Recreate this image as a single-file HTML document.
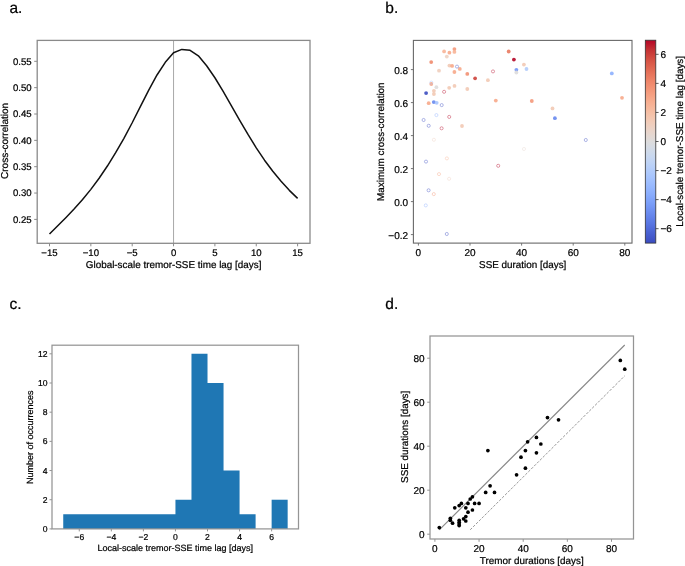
<!DOCTYPE html>
<html><head><meta charset="utf-8"><style>
html,body{margin:0;padding:0;background:#fff;}
body{width:685px;height:566px;overflow:hidden;}
svg{display:block;font-family:"Liberation Sans", sans-serif;will-change:transform;text-rendering:geometricPrecision;}
text{stroke:#000;stroke-width:0.22px;paint-order:stroke;}
</style></head><body>
<svg width="685" height="566" viewBox="0 0 685 566">
<rect x="0" y="0" width="685" height="566" fill="#fff"/>
<text x="9.50" y="13.20" font-size="15.5" text-anchor="start" fill="#000">a.</text>
<text x="385.30" y="13.20" font-size="15.5" text-anchor="start" fill="#000">b.</text>
<text x="9.50" y="309.00" font-size="15.5" text-anchor="start" fill="#000">c.</text>
<text x="385.30" y="309.00" font-size="15.5" text-anchor="start" fill="#000">d.</text>
<line x1="173.55" y1="40.40" x2="173.55" y2="243.30" stroke="#a8a8a8" stroke-width="1.0"/>
<path d="M49.50,234.09 L57.77,225.82 L66.04,217.45 L74.31,208.73 L82.58,199.45 L90.85,189.36 L99.12,178.25 L107.39,166.04 L115.66,152.72 L123.93,138.29 L132.20,122.77 L140.47,106.36 L148.74,90.04 L157.01,74.98 L165.28,62.33 L173.55,52.70 L181.82,49.40 L190.09,50.30 L198.36,55.80 L206.63,65.71 L214.90,77.75 L223.17,91.40 L231.44,105.77 L239.71,120.27 L247.98,134.46 L256.25,147.90 L264.52,160.20 L272.79,171.32 L281.06,181.34 L289.33,190.34 L297.60,198.38" fill="none" stroke="#111" stroke-width="1.5" stroke-linejoin="round"/>
<rect x="37.20" y="40.40" width="272.80" height="202.90" fill="none" stroke="#8a8a8a" stroke-width="1.3"/>
<line x1="34.20" y1="219.40" x2="37.20" y2="219.40" stroke="#8a8a8a" stroke-width="1.0"/>
<text x="31.70" y="222.80" font-size="9.6" text-anchor="end" fill="#000">0.25</text>
<line x1="34.20" y1="193.05" x2="37.20" y2="193.05" stroke="#8a8a8a" stroke-width="1.0"/>
<text x="31.70" y="196.45" font-size="9.6" text-anchor="end" fill="#000">0.30</text>
<line x1="34.20" y1="166.70" x2="37.20" y2="166.70" stroke="#8a8a8a" stroke-width="1.0"/>
<text x="31.70" y="170.10" font-size="9.6" text-anchor="end" fill="#000">0.35</text>
<line x1="34.20" y1="140.35" x2="37.20" y2="140.35" stroke="#8a8a8a" stroke-width="1.0"/>
<text x="31.70" y="143.75" font-size="9.6" text-anchor="end" fill="#000">0.40</text>
<line x1="34.20" y1="114.00" x2="37.20" y2="114.00" stroke="#8a8a8a" stroke-width="1.0"/>
<text x="31.70" y="117.40" font-size="9.6" text-anchor="end" fill="#000">0.45</text>
<line x1="34.20" y1="87.65" x2="37.20" y2="87.65" stroke="#8a8a8a" stroke-width="1.0"/>
<text x="31.70" y="91.05" font-size="9.6" text-anchor="end" fill="#000">0.50</text>
<line x1="34.20" y1="61.30" x2="37.20" y2="61.30" stroke="#8a8a8a" stroke-width="1.0"/>
<text x="31.70" y="64.70" font-size="9.6" text-anchor="end" fill="#000">0.55</text>
<line x1="49.50" y1="243.30" x2="49.50" y2="246.30" stroke="#8a8a8a" stroke-width="1.0"/>
<text x="49.50" y="256.30" font-size="9.6" text-anchor="middle" fill="#000">−15</text>
<line x1="90.85" y1="243.30" x2="90.85" y2="246.30" stroke="#8a8a8a" stroke-width="1.0"/>
<text x="90.85" y="256.30" font-size="9.6" text-anchor="middle" fill="#000">−10</text>
<line x1="132.20" y1="243.30" x2="132.20" y2="246.30" stroke="#8a8a8a" stroke-width="1.0"/>
<text x="132.20" y="256.30" font-size="9.6" text-anchor="middle" fill="#000">−5</text>
<line x1="173.55" y1="243.30" x2="173.55" y2="246.30" stroke="#8a8a8a" stroke-width="1.0"/>
<text x="173.55" y="256.30" font-size="9.6" text-anchor="middle" fill="#000">0</text>
<line x1="214.90" y1="243.30" x2="214.90" y2="246.30" stroke="#8a8a8a" stroke-width="1.0"/>
<text x="214.90" y="256.30" font-size="9.6" text-anchor="middle" fill="#000">5</text>
<line x1="256.25" y1="243.30" x2="256.25" y2="246.30" stroke="#8a8a8a" stroke-width="1.0"/>
<text x="256.25" y="256.30" font-size="9.6" text-anchor="middle" fill="#000">10</text>
<line x1="297.60" y1="243.30" x2="297.60" y2="246.30" stroke="#8a8a8a" stroke-width="1.0"/>
<text x="297.60" y="256.30" font-size="9.6" text-anchor="middle" fill="#000">15</text>
<text x="173.60" y="268.20" font-size="9.9" text-anchor="middle" fill="#000">Global-scale tremor-SSE time lag [days]</text>
<text x="8.00" y="140.90" font-size="10.0" text-anchor="middle" transform="rotate(-90 8.0 140.9)" fill="#000">Cross-correlation</text>
<circle cx="444.1" cy="51.4" r="1.9" fill="#f7b497" fill-opacity="0.9"/>
<circle cx="449.4" cy="52.7" r="1.9" fill="#f7a889" fill-opacity="0.9"/>
<circle cx="454.4" cy="49.1" r="1.9" fill="#f4987a" fill-opacity="0.9"/>
<circle cx="454.4" cy="51.9" r="1.9" fill="#f7b497" fill-opacity="0.9"/>
<circle cx="446.8" cy="56.6" r="1.9" fill="#edd1c2" fill-opacity="0.9"/>
<circle cx="431.2" cy="62.1" r="1.9" fill="#f08a6c" fill-opacity="0.9"/>
<circle cx="449.4" cy="65.6" r="1.9" fill="#f2c9b4" fill-opacity="0.9"/>
<circle cx="452.1" cy="65.9" r="1.9" fill="#f7a889" fill-opacity="0.9"/>
<circle cx="459.8" cy="68.9" r="1.9" fill="#f7a889" fill-opacity="0.9"/>
<circle cx="439.0" cy="70.7" r="1.9" fill="#efcebd" fill-opacity="0.9"/>
<circle cx="454.4" cy="72.0" r="1.9" fill="#f7a889" fill-opacity="0.9"/>
<circle cx="467.3" cy="73.9" r="1.9" fill="#f29072" fill-opacity="0.9"/>
<circle cx="475.1" cy="78.3" r="1.9" fill="#cd423b" fill-opacity="0.9"/>
<circle cx="487.9" cy="80.2" r="1.9" fill="#f2c9b4" fill-opacity="0.9"/>
<circle cx="431.3" cy="84.0" r="1.9" fill="#f7a889" fill-opacity="0.9"/>
<circle cx="436.4" cy="87.2" r="1.9" fill="#dddcdc" fill-opacity="0.9"/>
<circle cx="449.2" cy="87.8" r="1.9" fill="#f2c9b4" fill-opacity="0.9"/>
<circle cx="454.5" cy="85.9" r="1.9" fill="#f2c9b4" fill-opacity="0.9"/>
<circle cx="467.3" cy="89.0" r="1.9" fill="#f2c9b4" fill-opacity="0.9"/>
<circle cx="426.1" cy="93.1" r="1.9" fill="#3b4cc0" fill-opacity="0.9"/>
<circle cx="433.9" cy="90.8" r="1.9" fill="#f2c9b4" fill-opacity="0.9"/>
<circle cx="433.9" cy="94.0" r="1.9" fill="#f2c9b4" fill-opacity="0.9"/>
<circle cx="428.7" cy="103.2" r="1.9" fill="#f7a889" fill-opacity="0.9"/>
<circle cx="433.8" cy="102.1" r="1.9" fill="#6788ee" fill-opacity="0.9"/>
<circle cx="436.7" cy="102.8" r="1.9" fill="#a6c4fe" fill-opacity="0.9"/>
<circle cx="462.0" cy="126.0" r="1.9" fill="#f2c9b4" fill-opacity="0.9"/>
<circle cx="495.8" cy="100.6" r="1.9" fill="#f7a889" fill-opacity="0.9"/>
<circle cx="508.7" cy="51.5" r="1.9" fill="#e97a5f" fill-opacity="0.9"/>
<circle cx="513.9" cy="59.6" r="1.9" fill="#b40426" fill-opacity="0.9"/>
<circle cx="523.9" cy="64.6" r="1.9" fill="#f2c9b4" fill-opacity="0.9"/>
<circle cx="516.4" cy="69.8" r="1.9" fill="#7396f5" fill-opacity="0.9"/>
<circle cx="516.4" cy="72.5" r="1.9" fill="#dddcdc" fill-opacity="0.9"/>
<circle cx="526.5" cy="69.0" r="1.9" fill="#b2ccfb" fill-opacity="0.9"/>
<circle cx="611.8" cy="73.4" r="1.9" fill="#8db0fe" fill-opacity="0.9"/>
<circle cx="622.0" cy="97.8" r="1.9" fill="#f7a889" fill-opacity="0.9"/>
<circle cx="531.8" cy="101.0" r="1.9" fill="#f4987a" fill-opacity="0.9"/>
<circle cx="552.5" cy="108.4" r="1.9" fill="#f2c9b4" fill-opacity="0.9"/>
<circle cx="554.9" cy="118.2" r="1.9" fill="#6788ee" fill-opacity="0.9"/>
<circle cx="457.0" cy="66.6" r="1.55" fill="none" stroke="#3b4cc0" stroke-width="0.9" stroke-opacity="0.45"/>
<circle cx="431.3" cy="82.6" r="1.55" fill="none" stroke="#a6c4fe" stroke-width="0.9" stroke-opacity="0.45"/>
<circle cx="444.1" cy="91.8" r="1.55" fill="none" stroke="#b40426" stroke-width="0.9" stroke-opacity="0.45"/>
<circle cx="441.7" cy="105.1" r="1.55" fill="none" stroke="#3b4cc0" stroke-width="0.9" stroke-opacity="0.45"/>
<circle cx="436.4" cy="115.1" r="1.55" fill="none" stroke="#8db0fe" stroke-width="0.9" stroke-opacity="0.45"/>
<circle cx="449.2" cy="116.9" r="1.55" fill="none" stroke="#b40426" stroke-width="0.9" stroke-opacity="0.45"/>
<circle cx="423.6" cy="120.0" r="1.55" fill="none" stroke="#3b4cc0" stroke-width="0.9" stroke-opacity="0.45"/>
<circle cx="428.7" cy="125.8" r="1.55" fill="none" stroke="#3b4cc0" stroke-width="0.9" stroke-opacity="0.45"/>
<circle cx="441.6" cy="128.3" r="1.55" fill="none" stroke="#b40426" stroke-width="0.9" stroke-opacity="0.45"/>
<circle cx="493.0" cy="71.4" r="1.55" fill="none" stroke="#b40426" stroke-width="0.9" stroke-opacity="0.45"/>
<circle cx="585.8" cy="140.0" r="1.55" fill="none" stroke="#3b4cc0" stroke-width="0.9" stroke-opacity="0.45"/>
<circle cx="433.9" cy="139.8" r="1.55" fill="none" stroke="#edd1c2" stroke-width="0.9" stroke-opacity="0.45"/>
<circle cx="446.9" cy="158.4" r="1.55" fill="none" stroke="#f7b497" stroke-width="0.9" stroke-opacity="0.45"/>
<circle cx="426.0" cy="161.6" r="1.55" fill="none" stroke="#3b4cc0" stroke-width="0.9" stroke-opacity="0.45"/>
<circle cx="439.0" cy="174.1" r="1.55" fill="none" stroke="#f7a889" stroke-width="0.9" stroke-opacity="0.45"/>
<circle cx="449.1" cy="178.8" r="1.55" fill="none" stroke="#edd1c2" stroke-width="0.9" stroke-opacity="0.45"/>
<circle cx="498.2" cy="165.8" r="1.55" fill="none" stroke="#b40426" stroke-width="0.9" stroke-opacity="0.45"/>
<circle cx="524.0" cy="149.0" r="1.55" fill="none" stroke="#e6d7cf" stroke-width="0.9" stroke-opacity="0.45"/>
<circle cx="428.6" cy="190.3" r="1.55" fill="none" stroke="#3b4cc0" stroke-width="0.9" stroke-opacity="0.45"/>
<circle cx="433.8" cy="194.1" r="1.55" fill="none" stroke="#f4987a" stroke-width="0.9" stroke-opacity="0.45"/>
<circle cx="425.8" cy="205.4" r="1.55" fill="none" stroke="#8db0fe" stroke-width="0.9" stroke-opacity="0.45"/>
<circle cx="446.8" cy="234.0" r="1.55" fill="none" stroke="#3b4cc0" stroke-width="0.9" stroke-opacity="0.45"/>
<rect x="413.40" y="40.40" width="218.60" height="202.70" fill="none" stroke="#686868" stroke-width="1.1"/>
<line x1="410.90" y1="234.60" x2="413.40" y2="234.60" stroke="#686868" stroke-width="0.9"/>
<text x="408.10" y="238.50" font-size="10.0" text-anchor="end" fill="#000">−0.2</text>
<line x1="410.90" y1="201.60" x2="413.40" y2="201.60" stroke="#686868" stroke-width="0.9"/>
<text x="408.10" y="205.50" font-size="10.0" text-anchor="end" fill="#000">0.0</text>
<line x1="410.90" y1="168.60" x2="413.40" y2="168.60" stroke="#686868" stroke-width="0.9"/>
<text x="408.10" y="172.50" font-size="10.0" text-anchor="end" fill="#000">0.2</text>
<line x1="410.90" y1="135.60" x2="413.40" y2="135.60" stroke="#686868" stroke-width="0.9"/>
<text x="408.10" y="139.50" font-size="10.0" text-anchor="end" fill="#000">0.4</text>
<line x1="410.90" y1="102.60" x2="413.40" y2="102.60" stroke="#686868" stroke-width="0.9"/>
<text x="408.10" y="106.50" font-size="10.0" text-anchor="end" fill="#000">0.6</text>
<line x1="410.90" y1="69.60" x2="413.40" y2="69.60" stroke="#686868" stroke-width="0.9"/>
<text x="408.10" y="73.50" font-size="10.0" text-anchor="end" fill="#000">0.8</text>
<line x1="418.40" y1="243.10" x2="418.40" y2="245.60" stroke="#686868" stroke-width="0.9"/>
<text x="418.40" y="256.30" font-size="10.0" text-anchor="middle" fill="#000">0</text>
<line x1="470.00" y1="243.10" x2="470.00" y2="245.60" stroke="#686868" stroke-width="0.9"/>
<text x="470.00" y="256.30" font-size="10.0" text-anchor="middle" fill="#000">20</text>
<line x1="521.60" y1="243.10" x2="521.60" y2="245.60" stroke="#686868" stroke-width="0.9"/>
<text x="521.60" y="256.30" font-size="10.0" text-anchor="middle" fill="#000">40</text>
<line x1="573.20" y1="243.10" x2="573.20" y2="245.60" stroke="#686868" stroke-width="0.9"/>
<text x="573.20" y="256.30" font-size="10.0" text-anchor="middle" fill="#000">60</text>
<line x1="624.80" y1="243.10" x2="624.80" y2="245.60" stroke="#686868" stroke-width="0.9"/>
<text x="624.80" y="256.30" font-size="10.0" text-anchor="middle" fill="#000">80</text>
<text x="522.70" y="268.00" font-size="9.9" text-anchor="middle" fill="#000">SSE duration [days]</text>
<text x="383.80" y="141.70" font-size="9.9" text-anchor="middle" transform="rotate(-90 383.8 141.7)" fill="#000">Maximum cross-correlation</text>
<defs><linearGradient id="cbg" x1="0" y1="0" x2="0" y2="1"><stop offset="0.000" stop-color="#b40426"/><stop offset="0.050" stop-color="#c53334"/><stop offset="0.100" stop-color="#d65244"/><stop offset="0.150" stop-color="#e36c55"/><stop offset="0.200" stop-color="#ee8468"/><stop offset="0.250" stop-color="#f4987a"/><stop offset="0.300" stop-color="#f7ac8e"/><stop offset="0.350" stop-color="#f6bda2"/><stop offset="0.400" stop-color="#f2cbb7"/><stop offset="0.450" stop-color="#e9d5cb"/><stop offset="0.500" stop-color="#dddcdc"/><stop offset="0.550" stop-color="#cfdaea"/><stop offset="0.600" stop-color="#c0d4f5"/><stop offset="0.650" stop-color="#afcafc"/><stop offset="0.700" stop-color="#9ebeff"/><stop offset="0.750" stop-color="#8db0fe"/><stop offset="0.800" stop-color="#7b9ff9"/><stop offset="0.850" stop-color="#6a8bef"/><stop offset="0.900" stop-color="#5977e3"/><stop offset="0.950" stop-color="#4961d2"/><stop offset="1.000" stop-color="#3b4cc0"/></linearGradient></defs>
<rect x="645.30" y="40.20" width="10.50" height="202.90" fill="url(#cbg)" stroke="#333" stroke-width="0.8"/>
<line x1="655.80" y1="228.68" x2="658.60" y2="228.68" stroke="#333" stroke-width="0.8"/>
<text x="660.50" y="232.08" font-size="10.0" text-anchor="start" fill="#000">−6</text>
<line x1="655.80" y1="199.62" x2="658.60" y2="199.62" stroke="#333" stroke-width="0.8"/>
<text x="660.50" y="203.02" font-size="10.0" text-anchor="start" fill="#000">−4</text>
<line x1="655.80" y1="170.56" x2="658.60" y2="170.56" stroke="#333" stroke-width="0.8"/>
<text x="660.50" y="173.96" font-size="10.0" text-anchor="start" fill="#000">−2</text>
<line x1="655.80" y1="141.50" x2="658.60" y2="141.50" stroke="#333" stroke-width="0.8"/>
<text x="660.50" y="144.90" font-size="10.0" text-anchor="start" fill="#000">0</text>
<line x1="655.80" y1="112.44" x2="658.60" y2="112.44" stroke="#333" stroke-width="0.8"/>
<text x="660.50" y="115.84" font-size="10.0" text-anchor="start" fill="#000">2</text>
<line x1="655.80" y1="83.38" x2="658.60" y2="83.38" stroke="#333" stroke-width="0.8"/>
<text x="660.50" y="86.78" font-size="10.0" text-anchor="start" fill="#000">4</text>
<line x1="655.80" y1="54.32" x2="658.60" y2="54.32" stroke="#333" stroke-width="0.8"/>
<text x="660.50" y="57.72" font-size="10.0" text-anchor="start" fill="#000">6</text>
<text x="683.20" y="141.30" font-size="9.9" text-anchor="middle" transform="rotate(-90 683.2 141.29999999999998)" fill="#000">Local-scale tremor-SSE time lag [days]</text>
<path d="M63.24,528.90 L63.24,514.31 L175.45,514.31 L175.45,499.72 L191.48,499.72 L191.48,353.82 L207.51,353.82 L207.51,383.00 L223.54,383.00 L223.54,470.54 L239.57,470.54 L239.57,514.31 L255.60,514.31 L255.60,528.90 Z" fill="#1f77b4"/>
<path d="M271.63,528.90 L271.63,499.72 L287.66,499.72 L287.66,528.90 Z" fill="#1f77b4"/>
<rect x="52.00" y="345.20" width="246.50" height="183.70" fill="none" stroke="#959595" stroke-width="1.25"/>
<line x1="49.50" y1="528.90" x2="52.00" y2="528.90" stroke="#959595" stroke-width="1.0"/>
<text x="47.50" y="532.00" font-size="8.6" text-anchor="end" fill="#000">0</text>
<line x1="49.50" y1="499.72" x2="52.00" y2="499.72" stroke="#959595" stroke-width="1.0"/>
<text x="47.50" y="502.82" font-size="8.6" text-anchor="end" fill="#000">2</text>
<line x1="49.50" y1="470.54" x2="52.00" y2="470.54" stroke="#959595" stroke-width="1.0"/>
<text x="47.50" y="473.64" font-size="8.6" text-anchor="end" fill="#000">4</text>
<line x1="49.50" y1="441.36" x2="52.00" y2="441.36" stroke="#959595" stroke-width="1.0"/>
<text x="47.50" y="444.46" font-size="8.6" text-anchor="end" fill="#000">6</text>
<line x1="49.50" y1="412.18" x2="52.00" y2="412.18" stroke="#959595" stroke-width="1.0"/>
<text x="47.50" y="415.28" font-size="8.6" text-anchor="end" fill="#000">8</text>
<line x1="49.50" y1="383.00" x2="52.00" y2="383.00" stroke="#959595" stroke-width="1.0"/>
<text x="47.50" y="386.10" font-size="8.6" text-anchor="end" fill="#000">10</text>
<line x1="49.50" y1="353.82" x2="52.00" y2="353.82" stroke="#959595" stroke-width="1.0"/>
<text x="47.50" y="356.92" font-size="8.6" text-anchor="end" fill="#000">12</text>
<line x1="79.27" y1="528.90" x2="79.27" y2="531.40" stroke="#959595" stroke-width="1.0"/>
<text x="79.27" y="540.30" font-size="8.6" text-anchor="middle" fill="#000">−6</text>
<line x1="111.33" y1="528.90" x2="111.33" y2="531.40" stroke="#959595" stroke-width="1.0"/>
<text x="111.33" y="540.30" font-size="8.6" text-anchor="middle" fill="#000">−4</text>
<line x1="143.39" y1="528.90" x2="143.39" y2="531.40" stroke="#959595" stroke-width="1.0"/>
<text x="143.39" y="540.30" font-size="8.6" text-anchor="middle" fill="#000">−2</text>
<line x1="175.45" y1="528.90" x2="175.45" y2="531.40" stroke="#959595" stroke-width="1.0"/>
<text x="175.45" y="540.30" font-size="8.6" text-anchor="middle" fill="#000">0</text>
<line x1="207.51" y1="528.90" x2="207.51" y2="531.40" stroke="#959595" stroke-width="1.0"/>
<text x="207.51" y="540.30" font-size="8.6" text-anchor="middle" fill="#000">2</text>
<line x1="239.57" y1="528.90" x2="239.57" y2="531.40" stroke="#959595" stroke-width="1.0"/>
<text x="239.57" y="540.30" font-size="8.6" text-anchor="middle" fill="#000">4</text>
<line x1="271.63" y1="528.90" x2="271.63" y2="531.40" stroke="#959595" stroke-width="1.0"/>
<text x="271.63" y="540.30" font-size="8.6" text-anchor="middle" fill="#000">6</text>
<text x="175.25" y="551.30" font-size="9.0" text-anchor="middle" fill="#000">Local-scale tremor-SSE time lag [days]</text>
<text x="32.90" y="437.20" font-size="9.0" text-anchor="middle" transform="rotate(-90 32.9 437.2)" fill="#000">Number of occurrences</text>
<line x1="439.31" y1="529.80" x2="624.75" y2="345.00" stroke="#888888" stroke-width="1.15"/>
<line x1="470.22" y1="529.80" x2="624.75" y2="375.80" stroke="#8c8c8c" stroke-width="0.9" stroke-dasharray="2.6,1.5"/>
<circle cx="439.31" cy="527.60" r="1.85" fill="#000"/>
<circle cx="450.35" cy="518.36" r="1.85" fill="#000"/>
<circle cx="450.35" cy="520.34" r="1.85" fill="#000"/>
<circle cx="452.56" cy="523.20" r="1.85" fill="#000"/>
<circle cx="454.77" cy="507.80" r="1.85" fill="#000"/>
<circle cx="459.18" cy="505.60" r="1.85" fill="#000"/>
<circle cx="461.39" cy="503.40" r="1.85" fill="#000"/>
<circle cx="459.18" cy="520.34" r="1.85" fill="#000"/>
<circle cx="459.18" cy="522.32" r="1.85" fill="#000"/>
<circle cx="459.18" cy="524.08" r="1.85" fill="#000"/>
<circle cx="459.18" cy="525.62" r="1.85" fill="#000"/>
<circle cx="463.60" cy="518.80" r="1.85" fill="#000"/>
<circle cx="465.80" cy="516.60" r="1.85" fill="#000"/>
<circle cx="465.80" cy="521.00" r="1.85" fill="#000"/>
<circle cx="465.80" cy="507.80" r="1.85" fill="#000"/>
<circle cx="468.01" cy="503.40" r="1.85" fill="#000"/>
<circle cx="468.01" cy="512.20" r="1.85" fill="#000"/>
<circle cx="470.22" cy="499.00" r="1.85" fill="#000"/>
<circle cx="472.43" cy="496.80" r="1.85" fill="#000"/>
<circle cx="472.43" cy="510.00" r="1.85" fill="#000"/>
<circle cx="474.63" cy="503.40" r="1.85" fill="#000"/>
<circle cx="479.05" cy="503.40" r="1.85" fill="#000"/>
<circle cx="485.67" cy="492.40" r="1.85" fill="#000"/>
<circle cx="490.09" cy="485.80" r="1.85" fill="#000"/>
<circle cx="494.50" cy="492.40" r="1.85" fill="#000"/>
<circle cx="487.88" cy="450.60" r="1.85" fill="#000"/>
<circle cx="516.58" cy="474.80" r="1.85" fill="#000"/>
<circle cx="520.99" cy="457.20" r="1.85" fill="#000"/>
<circle cx="525.41" cy="450.60" r="1.85" fill="#000"/>
<circle cx="525.41" cy="468.20" r="1.85" fill="#000"/>
<circle cx="527.62" cy="441.80" r="1.85" fill="#000"/>
<circle cx="536.44" cy="437.40" r="1.85" fill="#000"/>
<circle cx="536.44" cy="452.80" r="1.85" fill="#000"/>
<circle cx="540.86" cy="444.00" r="1.85" fill="#000"/>
<circle cx="547.48" cy="417.60" r="1.85" fill="#000"/>
<circle cx="558.52" cy="419.80" r="1.85" fill="#000"/>
<circle cx="620.33" cy="360.40" r="1.85" fill="#000"/>
<circle cx="624.75" cy="369.20" r="1.85" fill="#000"/>
<rect x="430.00" y="336.00" width="203.50" height="203.00" fill="none" stroke="#949494" stroke-width="1.25"/>
<line x1="427.20" y1="534.20" x2="430.00" y2="534.20" stroke="#949494" stroke-width="1.0"/>
<text x="424.50" y="537.50" font-size="10.0" text-anchor="end" fill="#000">0</text>
<line x1="427.20" y1="490.20" x2="430.00" y2="490.20" stroke="#949494" stroke-width="1.0"/>
<text x="424.50" y="493.50" font-size="10.0" text-anchor="end" fill="#000">20</text>
<line x1="427.20" y1="446.20" x2="430.00" y2="446.20" stroke="#949494" stroke-width="1.0"/>
<text x="424.50" y="449.50" font-size="10.0" text-anchor="end" fill="#000">40</text>
<line x1="427.20" y1="402.20" x2="430.00" y2="402.20" stroke="#949494" stroke-width="1.0"/>
<text x="424.50" y="405.50" font-size="10.0" text-anchor="end" fill="#000">60</text>
<line x1="427.20" y1="358.20" x2="430.00" y2="358.20" stroke="#949494" stroke-width="1.0"/>
<text x="424.50" y="361.50" font-size="10.0" text-anchor="end" fill="#000">80</text>
<line x1="434.90" y1="539.00" x2="434.90" y2="541.80" stroke="#949494" stroke-width="1.0"/>
<text x="434.90" y="551.70" font-size="10.0" text-anchor="middle" fill="#000">0</text>
<line x1="479.05" y1="539.00" x2="479.05" y2="541.80" stroke="#949494" stroke-width="1.0"/>
<text x="479.05" y="551.70" font-size="10.0" text-anchor="middle" fill="#000">20</text>
<line x1="523.20" y1="539.00" x2="523.20" y2="541.80" stroke="#949494" stroke-width="1.0"/>
<text x="523.20" y="551.70" font-size="10.0" text-anchor="middle" fill="#000">40</text>
<line x1="567.35" y1="539.00" x2="567.35" y2="541.80" stroke="#949494" stroke-width="1.0"/>
<text x="567.35" y="551.70" font-size="10.0" text-anchor="middle" fill="#000">60</text>
<line x1="611.50" y1="539.00" x2="611.50" y2="541.80" stroke="#949494" stroke-width="1.0"/>
<text x="611.50" y="551.70" font-size="10.0" text-anchor="middle" fill="#000">80</text>
<text x="531.75" y="563.60" font-size="9.9" text-anchor="middle" fill="#000">Tremor durations [days]</text>
<text x="408.20" y="436.80" font-size="9.9" text-anchor="middle" transform="rotate(-90 408.2 436.8)" fill="#000">SSE durations [days]</text>
</svg>
</body></html>
